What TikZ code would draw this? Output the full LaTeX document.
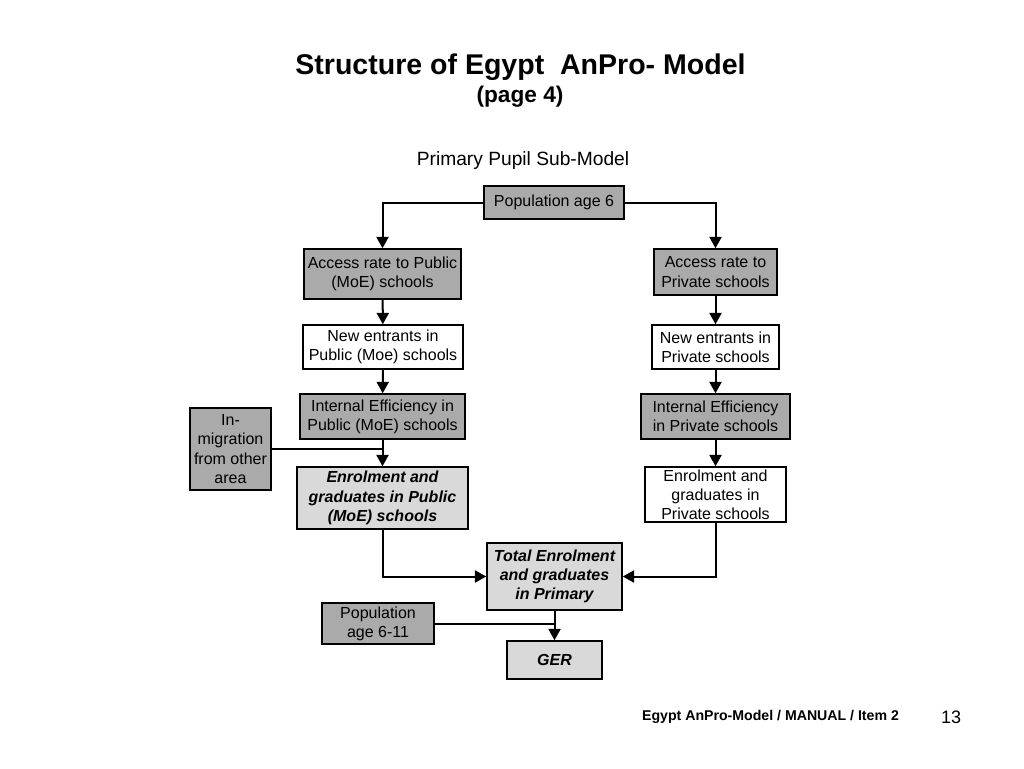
\documentclass[tikz,border=0pt]{standalone}
\usepackage{fontspec}
\setmainfont{Liberation Sans}
\usetikzlibrary{arrows.meta}
\definecolor{boxgray}{RGB}{170,170,170}
\definecolor{boxlight}{RGB}{217,217,217}
\begin{document}
\begin{tikzpicture}[x=0.75pt,y=-0.75pt,
  box/.style={draw,line width=1.1pt,inner sep=0pt,align=center,
    font=\fontsize{12}{14.4}\selectfont},
  darkbox/.style={box,fill=boxgray},
  lightbox/.style={box,fill=boxlight,font=\fontsize{12}{14.4}\selectfont\bfseries\itshape},
  link/.style={line width=1.5pt},
  arr/.style={link,-{Triangle[width=9pt,length=8.5pt]}}]
\useasboundingbox (0,0) rectangle (1024,768);

% Titles
\node[anchor=base,font=\fontsize{21.4}{25}\selectfont\bfseries] (title) at (520.5,74) {Structure of Egypt\ \ AnPro- Model};
\node[anchor=base,font=\fontsize{17}{20}\selectfont\bfseries] (page) at (520,102) {(page 4)};
\node[anchor=base,font=\fontsize{14.4}{17}\selectfont] (sub) at (523,165) {Primary Pupil Sub-Model};

% Boxes
\node[darkbox,minimum width=105pt,minimum height=24.75pt] (pop6) at (554,202.5) {Population age 6};
\node[darkbox,minimum width=117.75pt,minimum height=37.5pt] (accpub) at (382.5,274) {Access rate to Public\\(MoE) schools};
\node[box,minimum width=120pt,minimum height=33pt] (newpub) at (383,347) {New entrants in\\Public (Moe) schools};
\node[darkbox,minimum width=123.75pt,minimum height=33.75pt] (iepub) at (382.5,416.5) {Internal Efficiency in\\Public (MoE) schools};
\node[darkbox,minimum width=60.75pt,minimum height=61.5pt] (inmig) at (230.5,449) {In-\\migration\\from other\\area};
\node[lightbox,minimum width=128.25pt,minimum height=46.5pt] (enrpub) at (382.5,498) {Enrolment and\\graduates in Public\\(MoE) schools};

\node[darkbox,minimum width=92.25pt,minimum height=34.5pt] (accpri) at (715.5,272) {Access rate to\\Private schools};
\node[box,minimum width=95.25pt,minimum height=33pt] (newpri) at (715.5,347) {New entrants in\\Private schools};
\node[darkbox,minimum width=111.75pt,minimum height=33.75pt] (iepri) at (715.5,416.5) {Internal Efficiency\\in Private schools};
\node[box,minimum width=105.75pt,minimum height=41.25pt] (enrpri) at (715.5,494.5) {Enrolment and\\graduates in\\Private schools};

\node[lightbox,minimum width=101.25pt,minimum height=50.25pt] (total) at (554.5,576.5) {Total Enrolment\\and graduates\\in Primary};
\node[darkbox,minimum width=84pt,minimum height=30.75pt] (pop611) at (378,623.5) {Population\\age 6-11};
\node[lightbox,minimum width=71.25pt,minimum height=28.5pt] (ger) at (554.5,660) {GER};

% Connectors
\draw[arr] (pop6.west) -| (accpub.north);
\draw[arr] (pop6.east) -| (accpri.north);
\draw[arr] (accpub) -- (newpub);
\draw[arr] (newpub) -- (iepub);
\draw[arr] (iepub) -- (enrpub);
\draw[link] (inmig) -- (inmig -| iepub);
\draw[arr] (accpri) -- (newpri);
\draw[arr] (newpri) -- (iepri);
\draw[arr] (iepri) -- (enrpri);
\draw[arr] (enrpub.south) |- (total.west);
\draw[arr] (enrpri.south) |- (total.east);
\draw[arr] (total) -- (ger);
\draw[link] (pop611) -- (pop611 -| total);

% Footer
\node[anchor=base,font=\fontsize{10.6}{13}\selectfont\bfseries] (foot) at (770.5,720) {Egypt AnPro-Model / MANUAL / Item 2};
\node[anchor=base,font=\fontsize{13.5}{16}\selectfont] (num) at (951,723) {13};
\end{tikzpicture}
\end{document}
